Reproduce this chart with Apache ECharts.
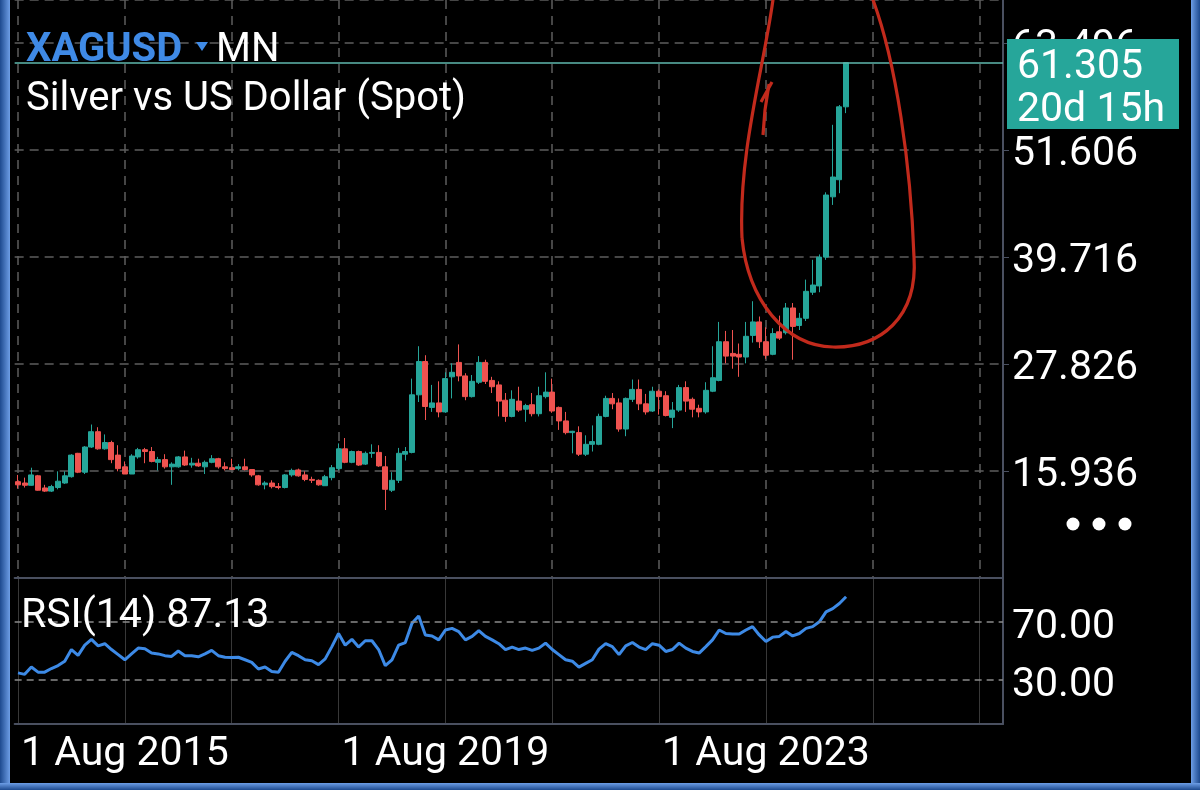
<!DOCTYPE html>
<html><head><meta charset="utf-8">
<script src="https://cdn.jsdelivr.net/npm/echarts@6/dist/echarts.min.js"></script>
<style>html,body{margin:0;padding:0;background:#000;}#c{width:1200px;height:790px;}</style>
</head><body><div id="c"></div>
<script>
// ---- data ----
const monthNames = ['Jan','Feb','Mar','Apr','May','Jun','Jul','Aug','Sep','Oct','Nov','Dec'];
const categoryCount = 148; // Aug 2015 .. Nov 2027 (axis extends beyond last candle)
const categories = [];
for (let i = 0; i < categoryCount; i++) {
  const m = (7 + i) % 12, y = 2015 + Math.floor((7 + i) / 12);
  categories.push('1 ' + monthNames[m] + ' ' + y);
}
// [open, close, low, high] monthly, Aug 2015 .. Dec 2025
const ohlc = [
[14.75,14.40,14.00,15.50],[14.60,14.35,14.10,15.20],[14.35,15.50,14.30,16.30],[15.40,13.80,13.75,15.50],[14.05,13.70,13.60,14.40],
[13.70,14.20,13.60,14.40],[14.10,14.80,13.90,15.90],[14.60,15.40,14.50,15.90],[15.30,17.70,15.20,17.80],[17.90,15.80,15.70,17.95],[15.80,18.60,15.60,18.70],
[18.60,20.30,18.50,21.10],[20.30,18.40,18.30,20.80],[18.40,19.10,18.30,20.00],[19.10,17.20,16.80,19.30],[17.70,16.20,15.90,18.80],[16.40,15.60,15.60,17.00],
[15.60,17.60,15.60,17.80],[17.50,18.30,17.30,18.50],[18.30,18.10,16.80,18.50],[18.10,17.00,16.90,18.60],[16.90,17.20,16.00,17.50],[17.20,16.40,16.20,17.80],
[16.40,16.70,14.40,16.90],[16.40,17.50,16.30,17.60],[17.50,16.60,16.50,18.20],[16.60,16.80,16.30,17.40],[16.80,16.50,16.40,17.30],[16.40,16.90,15.60,17.10],
[16.90,17.30,16.80,17.70],[17.30,16.40,16.20,17.40],[16.40,16.20,16.00,16.90],[16.30,16.10,16.10,17.30],[16.20,16.40,16.00,16.70],[16.40,16.10,16.00,17.30],
[16.10,15.50,15.30,16.10],[15.40,14.40,14.30,15.50],[14.40,14.60,13.90,14.80],[14.60,14.20,14.00,14.90],[14.20,14.10,13.90,14.60],[14.10,15.50,14.00,15.60],
[15.50,16.00,15.30,16.20],[16.05,15.40,15.30,16.20],[15.50,15.00,14.80,15.90],[15.00,14.90,14.60,15.30],[14.90,14.40,14.30,15.00],[14.30,15.30,14.30,15.50],
[15.20,16.30,14.90,16.60],[16.20,18.40,16.00,19.00],[18.40,16.90,16.80,19.60],[16.90,18.10,16.80,18.20],[18.10,16.60,16.50,18.20],[16.70,17.90,16.60,18.10],
[17.90,18.00,17.40,18.90],[18.00,16.50,16.40,18.80],[16.40,13.90,11.60,17.60],[13.80,14.90,13.60,15.80],[14.90,17.90,14.60,18.50],[17.80,18.10,17.10,18.60],
[18.00,24.40,17.90,26.20],[24.40,28.10,23.60,29.80],[28.10,23.10,21.60,28.80],[23.00,23.50,22.50,25.50],[23.50,22.50,21.90,25.90],[22.50,26.20,22.40,26.90],
[26.40,26.90,24.00,27.90],[28.00,26.50,25.90,30.00],[26.50,24.20,23.80,26.80],[24.20,25.90,24.10,26.60],[25.80,28.00,25.60,28.70],[28.00,25.90,25.60,28.30],
[26.00,25.30,24.60,26.40],[25.50,23.70,22.00,25.90],[23.80,22.00,21.40,24.60],[22.00,23.90,21.90,24.90],[23.70,22.70,22.50,25.30],[22.80,23.20,21.40,23.40],
[23.30,22.30,22.00,24.60],[22.30,24.30,22.00,25.30],[24.20,24.70,24.00,26.90],[24.70,22.60,22.40,26.20],[23.00,21.50,20.50,23.10],[21.50,20.20,20.00,22.50],
[20.20,20.35,17.90,20.40],[20.20,17.80,17.60,20.90],[17.80,18.90,17.60,19.90],[18.90,19.20,18.10,21.00],[18.90,22.00,18.80,22.30],[22.00,24.00,21.90,24.30],
[24.00,23.40,22.80,24.60],[23.50,20.60,20.30,24.00],[20.60,24.00,19.80,24.10],[23.90,25.00,23.60,26.10],[25.00,23.40,22.70,26.10],[23.40,22.50,22.20,24.50],
[22.60,24.80,22.50,25.30],[24.80,24.20,22.20,25.00],[24.30,22.10,22.00,24.80],[21.90,22.70,20.70,23.60],[22.70,25.20,22.50,25.50],[25.20,23.70,22.50,25.90],
[23.90,22.80,21.90,24.10],[22.90,22.50,21.90,23.30],[22.50,24.90,22.30,25.80],[24.80,26.30,24.70,29.80],[26.00,30.30,25.90,32.50],[30.30,28.70,27.90,31.50],
[29.00,28.70,27.30,31.60],[28.90,28.60,26.40,30.10],[28.60,30.90,27.90,32.50],[31.00,32.50,30.20,34.80],[32.50,30.30,29.60,33.10],[30.30,28.80,28.40,31.90],
[28.90,31.20,28.80,31.80],[31.40,30.70,30.50,33.20],[31.30,34.05,31.10,34.60],[34.05,32.00,28.30,34.60],[32.10,32.90,31.60,33.50],[32.90,35.90,32.60,37.20],
[35.80,36.60,35.50,39.40],[36.50,39.70,35.80,40.00],[39.70,46.60,39.40,46.90],[46.40,48.60,45.50,54.40],[48.30,56.40,46.80,56.60],[56.40,61.305,55.70,61.305]
];
const rsi = [
35,34,39,35.5,35.5, 38,40,43,51,47, 54,58,53.5,55,51, 47.5,44,48,52,51.5,
48.6,48,46.8,46.3,50, 46.8,46.8,46,48,50.4, 46.8,45.7,45.5,45.7,44, 42.2,37.7,39,36,35.4,
43,49,46.8,44,43.3, 40.7,44.6,53,62,54, 58,52.7,57,57,51, 40,44,54,55.8,69,
74,61,60.3,57.6,64.4, 65.5,63.3,57.6,60,64, 60,57.6,55,51,52.7, 51,52,50.4,52,55.4,
51,47.5,44,43,39, 41.5,44,51.3,55,53, 47.5,53.5,55.8,52.7,51, 55,54,49.7,51,55.4,
52,49.7,48.6,53,57.6, 64.4,62,61.6,61.6,64.4, 66.7,61,56.5,59.5,60, 63.3,60.3,62,65.5,66.7,
70,76.8,79,82.5,87.13
];
const priceTicks = [15.936, 27.826, 39.716, 51.606, 63.496];
const rsiLevels = [70, 30];
const lastPrice = 61.305;
const lastRsi = 87.13;
const countdown = '20d 15h';

// ---- chart ----
const UP = '#26a69a', DOWN = '#ef5350', AXIS = '#4a5060', GRIDC = '#5e5e5e';
const chart = echarts.init(document.getElementById('c'));
const F = 'Roboto';
const FS = 41;
function lin(x2, y2, c1, c2) {
  return { type: 'linear', x: 0, y: 0, x2: x2, y2: y2, colorStops: [{ offset: 0, color: c1 }, { offset: 1, color: c2 }] };
}
const PEN = { fill: 'none', stroke: '#c22a1c', lineWidth: 3.2 };
function bez(x1, y1, c1x, c1y, c2x, c2y, x2, y2) {
  return { type: 'bezierCurve', z: 110, shape: { x1: x1, y1: y1, cpx1: c1x, cpy1: c1y, cpx2: c2x, cpy2: c2y, x2: x2, y2: y2 }, style: PEN };
}
const option = {
  backgroundColor: '#000',
  animation: false,
  textStyle: { fontFamily: F },
  grid: [
    { left: 14.66, right: 197, top: 0, height: 578 },
    { left: 14.66, right: 197, top: 578, height: 146 }
  ],
  xAxis: [
    { type: 'category', gridIndex: 0, data: categories, boundaryGap: true,
      axisLine: { show: true, lineStyle: { color: AXIS, width: 2 } },
      axisTick: { show: false }, axisLabel: { show: false },
      splitLine: { show: true, interval: 15, alignWithLabel: true, lineStyle: { color: GRIDC, type: [9, 7], width: 1.5 } } },
    { type: 'category', gridIndex: 1, data: categories, boundaryGap: true,
      axisLine: { show: true, lineStyle: { color: AXIS, width: 2 } },
      axisTick: { show: false },
      axisLabel: { show: true, interval: (i) => i % 48 === 0 && i <= 96, color: '#fff', fontSize: FS, fontFamily: F,
        align: 'left', margin: 10, padding: [0, 0, 0, 3] },
      splitLine: { show: true, interval: 15, alignWithLabel: true, lineStyle: { color: '#383838', width: 1 } } }
  ],
  yAxis: [
    { type: 'value', gridIndex: 0, position: 'right', min: 4.046, max: 68.27, interval: 11.89,
      axisLine: { show: true, lineStyle: { color: AXIS, width: 2 } },
      axisTick: { show: true, length: 6, lineStyle: { color: AXIS } },
      axisLabel: { color: '#fff', fontSize: FS, fontFamily: F, margin: 9, showMinLabel: false, showMaxLabel: false,
        verticalAlign: 'top', lineHeight: 10,
        formatter: (v) => { for (const t of priceTicks) { if (Math.abs(v - t) < 0.02) return t.toFixed(3); } return ''; } },
      splitLine: { show: true, lineStyle: { color: GRIDC, type: [9, 6], width: 1.5 } } },
    { type: 'value', gridIndex: 1, position: 'right', min: 0, max: 100,
      axisLine: { show: true, lineStyle: { color: AXIS, width: 2 } },
      axisTick: { show: false }, axisLabel: { show: false }, splitLine: { show: false } }
  ],
  series: [
    { type: 'candlestick', xAxisIndex: 0, yAxisIndex: 0, data: ohlc, barWidth: 5.5,
      itemStyle: { color: UP, color0: DOWN, borderColor: UP, borderColor0: DOWN, borderWidth: 1 },
      markLine: { silent: true, symbol: ['none', 'none'], label: { show: false },
        lineStyle: { color: '#5fb8ae', type: 'solid', width: 1.5 },
        data: [{ yAxis: lastPrice }] } },
    { type: 'line', xAxisIndex: 1, yAxisIndex: 1, data: rsi, symbol: 'none',
      lineStyle: { color: '#3d8ae6', width: 3 },
      markLine: { silent: true, symbol: ['none', 'none'],
        lineStyle: { color: '#8a8a8a', type: [7, 5], width: 1.5 },
        label: { show: true, position: 'end', distance: 9, color: '#fff', fontSize: FS, fontFamily: F,
          verticalAlign: 'top', lineHeight: 12,
          formatter: (p) => Number(p.value).toFixed(2) },
        data: rsiLevels.map(v => ({ yAxis: v })) } }
  ],
  graphic: [
    { type: 'text', z: 100, style: { text: 'XAGUSD', x: 26, y: 51, fill: '#3f8ae6', fontSize: 40, fontWeight: 'bold', fontFamily: F, verticalAlign: 'middle' } },
    { type: 'polygon', z: 100, shape: { points: [[196, 42], [208, 42], [202, 51]] }, style: { fill: '#3f8ae6' } },
    { type: 'text', z: 100, style: { text: 'MN', x: 216, y: 51, fill: '#fff', fontSize: 40, fontFamily: F, verticalAlign: 'middle' } },
    { type: 'text', z: 100, style: { text: 'Silver vs US Dollar (Spot)', x: 26, y: 100, fill: '#fff', fontSize: 40, fontFamily: F, verticalAlign: 'middle' } },
    { type: 'text', z: 100, style: { text: 'RSI(14) ' + lastRsi.toFixed(2), x: 21, y: 617, fill: '#fff', fontSize: FS, fontFamily: F, verticalAlign: 'middle' } },
    { type: 'rect', z: 100, shape: { x: 1007, y: 39, width: 172, height: 90 }, style: { fill: UP } },
    { type: 'text', z: 101, style: { text: lastPrice.toFixed(3), x: 1017, y: 68, fill: '#fff', fontSize: FS, fontFamily: F, verticalAlign: 'middle' } },
    { type: 'text', z: 101, style: { text: countdown, x: 1017, y: 111, fill: '#fff', fontSize: FS, fontFamily: F, verticalAlign: 'middle' } },
    { type: 'circle', z: 100, shape: { cx: 1073, cy: 524, r: 6.5 }, style: { fill: '#fff' } },
    { type: 'circle', z: 100, shape: { cx: 1099, cy: 524, r: 6.5 }, style: { fill: '#fff' } },
    { type: 'circle', z: 100, shape: { cx: 1125, cy: 524, r: 6.5 }, style: { fill: '#fff' } },
    bez(774, -8, 766, 60, 738, 150, 742, 238),
    bez(742, 238, 748, 300, 785, 346, 833, 347),
    bez(833, 347, 880, 348, 918, 318, 914, 257),
    bez(914, 257, 911, 170, 897, 60, 870, -8),
    { type: 'polyline', z: 110, shape: { points: [[763, 135], [765, 110], [769, 84]] }, style: PEN },
    { type: 'line', z: 110, shape: { x1: 761, y1: 102, x2: 772, y2: 82 }, style: PEN },
    { type: 'rect', z: 120, shape: { x: 0, y: 0, width: 10, height: 790 }, style: { fill: lin(1, 0, '#1d4a8f', '#6d9ee6') } },
    { type: 'rect', z: 120, shape: { x: 1191, y: 0, width: 9, height: 790 }, style: { fill: lin(1, 0, '#6d9ee6', '#1d4a8f') } },
    { type: 'rect', z: 120, shape: { x: 0, y: 783, width: 1200, height: 7 }, style: { fill: lin(0, 1, '#6d9ee6', '#1d4a8f') } }
  ]
};
chart.setOption(option);
</script></body></html>
